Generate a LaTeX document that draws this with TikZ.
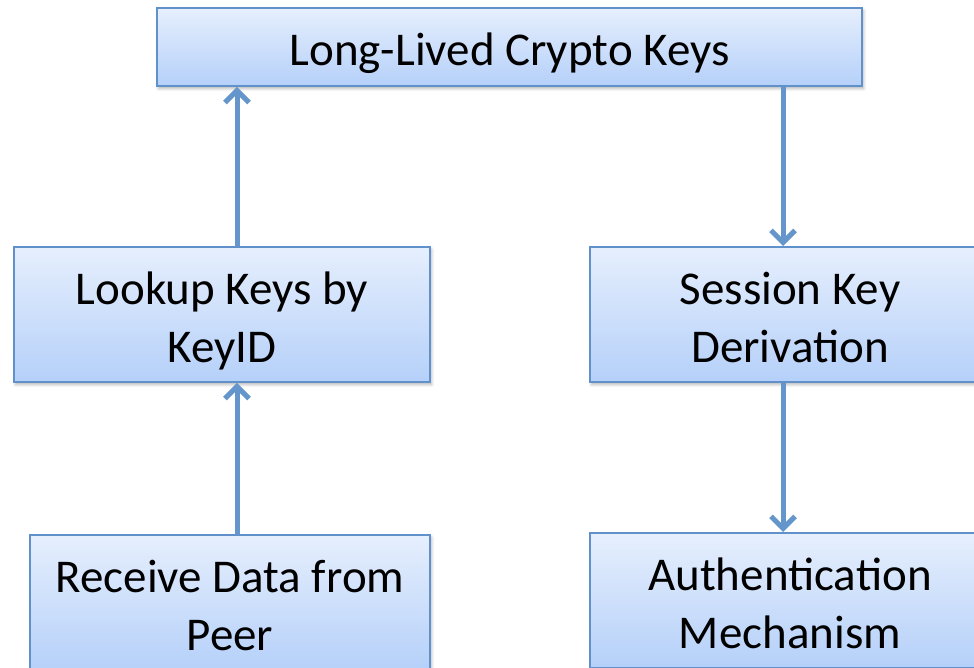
\documentclass[tikz,border=0pt]{standalone}
\usepackage{fontspec}
\setmainfont{Carlito}
\usetikzlibrary{arrows.meta, shadows.blur}
\definecolor{boxtop}{RGB}{230,239,253}
\definecolor{boxbot}{RGB}{181,208,249}
\definecolor{boxline}{RGB}{96,145,202}
\definecolor{flowblue}{RGB}{100,150,204}

\begin{document}
\begin{tikzpicture}[x=1pt, y=1pt,
  keybox/.style={draw=boxline, line width=2pt, top color=boxtop, bottom color=boxbot,
    align=center, inner sep=0pt, font=\fontsize{47}{58}\selectfont, text height=97pt, text depth=0pt,
    blur shadow={shadow xshift=1.5pt, shadow yshift=-2.5pt, shadow blur radius=3pt, shadow opacity=30}},
  flow/.style={draw=flowblue, line width=5pt, -{Straight Barb[length=12pt, width=24pt]}}]
\useasboundingbox (0,0) rectangle (974,668);
\clip (0,0) rectangle (974,668);
\node[keybox, text height=37pt, minimum width=705pt, minimum height=78pt] (longkeys) at (509.5,621) {Long-Lived Crypto Keys};
\node[keybox, minimum width=416pt, minimum height=135pt] (lookup) at (222,353.5) {Lookup Keys by\\KeyID};
\node[keybox, minimum width=400pt, minimum height=135pt] (session) at (790,353.5) {Session Key\\Derivation};
\node[keybox, minimum width=400pt, minimum height=135pt] (receive) at (230,65.5) {Receive Data from\\Peer};
\node[keybox, minimum width=400pt, minimum height=135pt] (auth) at (790,67.5) {Authentication\\Mechanism};
\coordinate (leftcol) at (237,0);
\coordinate (rightcol) at (783,0);
\draw[flow] (lookup.north -| leftcol) -- (longkeys.south -| leftcol);
\draw[flow] (receive.north -| leftcol) -- (lookup.south -| leftcol);
\draw[flow] (longkeys.south -| rightcol) -- (session.north -| rightcol);
\draw[flow] (session.south -| rightcol) -- (auth.north -| rightcol);
\end{tikzpicture}
\end{document}
